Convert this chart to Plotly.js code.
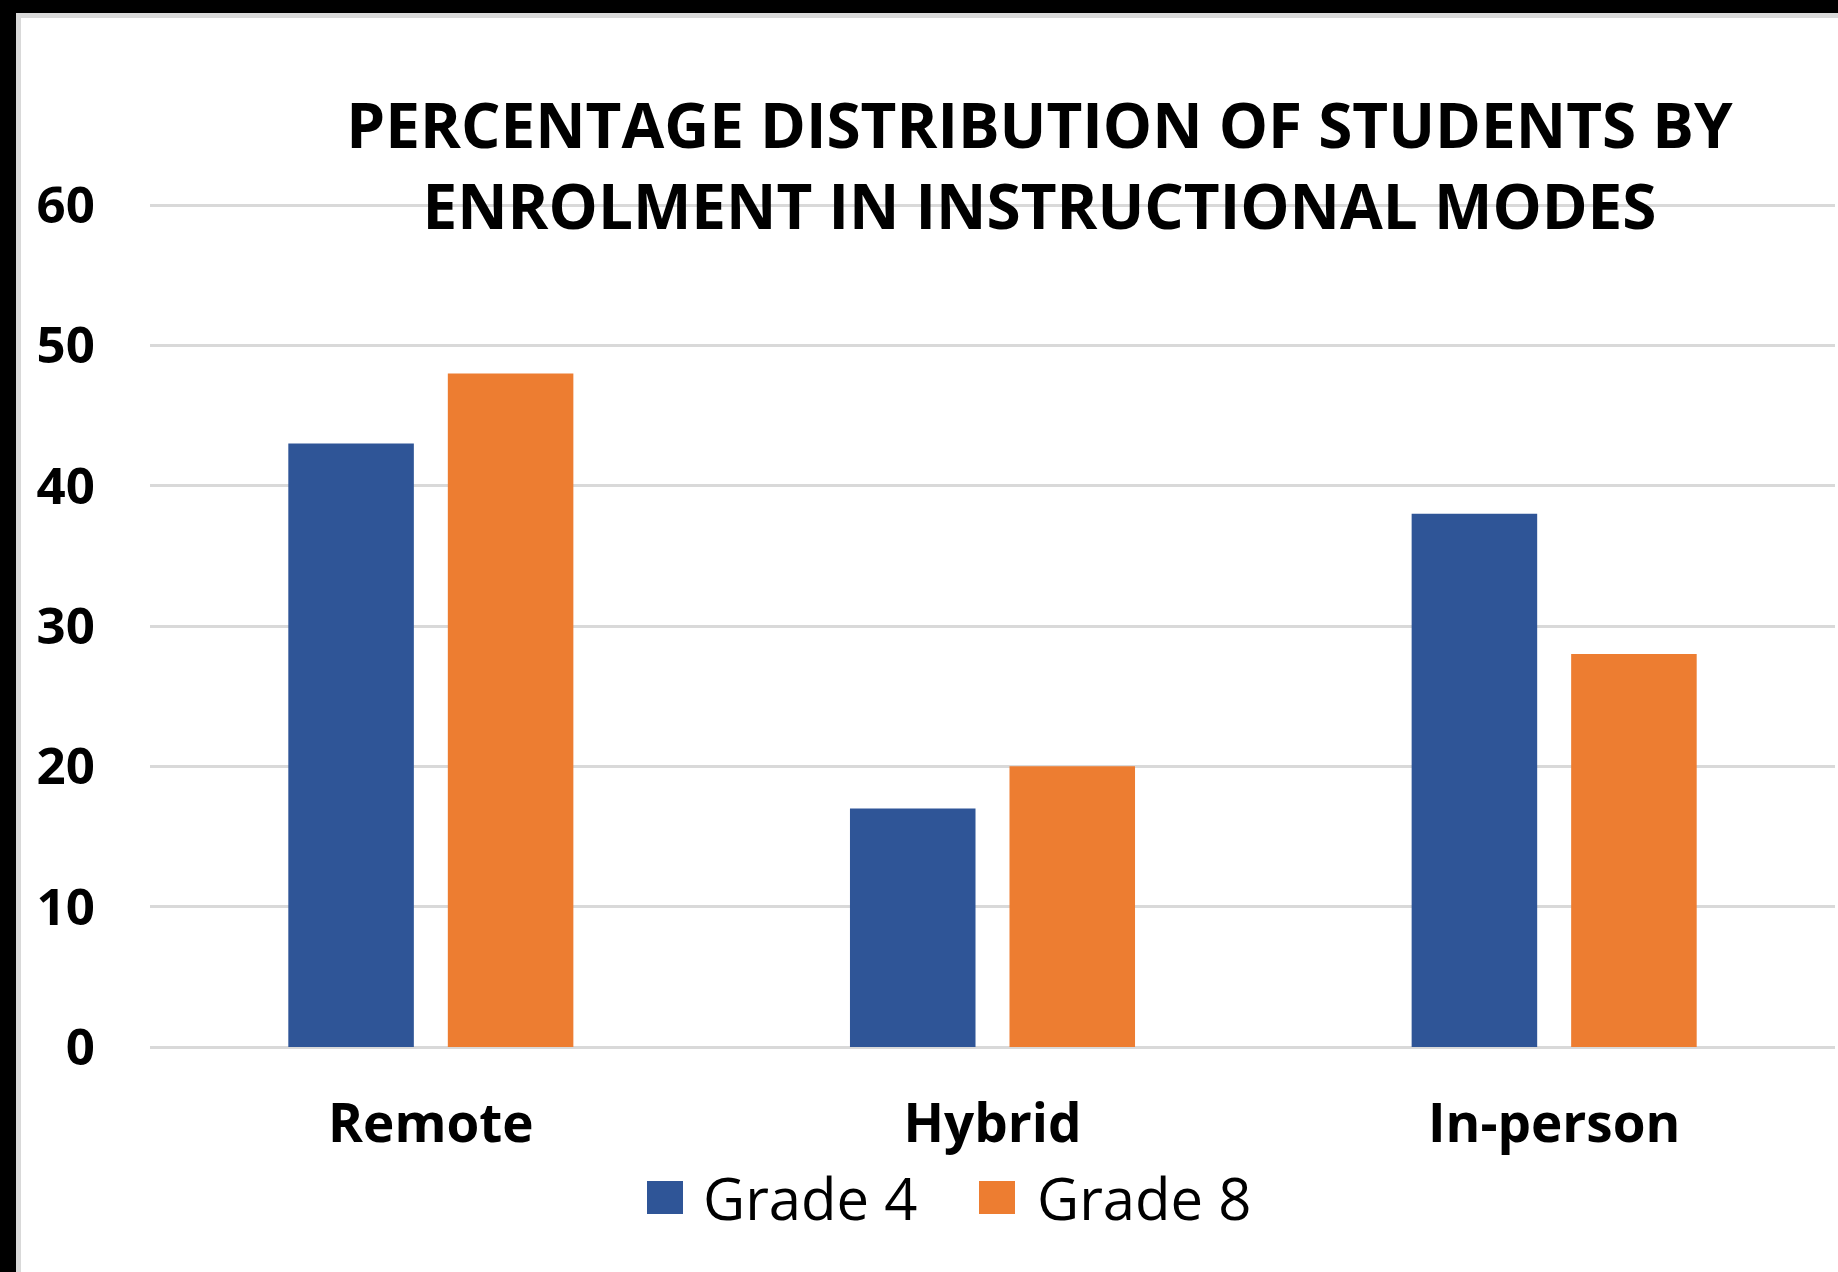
<!DOCTYPE html>
<html>
<head>
<meta charset="utf-8">
<script src="https://cdn.plot.ly/plotly-3.0.1.min.js"></script>
<style>
  html, body { margin: 0; padding: 0; background: #000; width: 1838px; height: 1272px; overflow: hidden; }
  #frame { position: absolute; left: 16px; top: 13px; width: 1822px; height: 1259px; background: #fff;
           box-sizing: border-box; border-top: 5px solid #d9d9d9; border-left: 5px solid #d9d9d9; }
  #chart { position: absolute; left: 0; top: 0; width: 1838px; height: 1272px; }
</style>
</head>
<body>
<div id="frame"></div>
<div id="chart"></div>
<script>
// ---- data ----
const categories = ["Remote", "Hybrid", "In-person"];
const seriesNames = ["Grade 4", "Grade 8"];
const grade4 = [43, 17, 38];
const grade8 = [48, 20, 28];
const yTickValues = [0, 10, 20, 30, 40, 50, 60];
const titleLines = ["PERCENTAGE DISTRIBUTION OF STUDENTS BY", "ENROLMENT IN INSTRUCTIONAL MODES"];

// ---- styling ----
const colors = ["#2F5597", "#ED7D31"];
const W = 1838, H = 1272;
const M = { l: 150, r: 3, t: 191, b: 225 };
const plotW = W - M.l - M.r, plotH = H - M.t - M.b;
const px2paperX = px => (px - M.l) / plotW;
const px2paperY = py => (H - M.b - py) / plotH;

const seriesValues = [grade4, grade8];
const traces = seriesNames.map((name, i) => ({
  type: "bar",
  name: name,
  x: categories,
  y: seriesValues[i],
  marker: { color: colors[i], line: { width: 0 } },
  showlegend: false,
  hoverinfo: "x+y+name"
}));

// custom legend (big square swatches like the original)
const legendSwatchX = [647, 979];
const legendTextX = [701, 1035];
const legendY0 = 1181, legendY1 = 1214, legendMidY = 1197;
const shapes = seriesNames.map((n, i) => ({
  type: "rect", xref: "paper", yref: "paper",
  x0: px2paperX(legendSwatchX[i]), x1: px2paperX(legendSwatchX[i] + 36),
  y0: px2paperY(legendY1), y1: px2paperY(legendY0),
  fillcolor: colors[i], line: { width: 0 }
}));
const annotations = seriesNames.map((n, i) => ({
  text: n, xref: "paper", yref: "paper",
  x: px2paperX(legendTextX[i]), y: px2paperY(legendMidY),
  xanchor: "left", yanchor: "middle", showarrow: false,
  font: { family: "Open Sans, sans-serif", size: 58, color: "#000" }
}));

const layout = {
  width: W, height: H,
  margin: M,
  paper_bgcolor: "rgba(0,0,0,0)",
  plot_bgcolor: "rgba(0,0,0,0)",
  title: {
    text: titleLines.join("<br>"),
    font: { family: "Open Sans, sans-serif", size: 62, color: "#000", weight: "bold" },
    x: 1039.5 / W, xanchor: "center", xref: "container",
    y: 1 - 148 / H, yanchor: "top", yref: "container"
  },
  barmode: "group",
  bargap: 0.432,
  bargroupgap: 0.213,
  xaxis: {
    type: "category",
    showgrid: false, zeroline: false, showline: false,
    ticks: "outside", ticklen: 30, tickcolor: "rgba(0,0,0,0)",
    tickfont: { family: "Open Sans, sans-serif", size: 53, color: "#000", weight: "bold" }
  },
  yaxis: {
    range: [0, 61],
    tickvals: yTickValues,
    ticktext: yTickValues.map(String),
    showgrid: true, gridcolor: "#D9D9D9", gridwidth: 3,
    zeroline: true, zerolinecolor: "#D9D9D9", zerolinewidth: 3,
    showline: false,
    ticks: "outside", ticklen: 44, tickcolor: "rgba(0,0,0,0)",
    tickfont: { family: "Open Sans, sans-serif", size: 51, color: "#000", weight: "bold" }
  },
  shapes: shapes,
  annotations: annotations,
  showlegend: false
};

Plotly.newPlot("chart", traces, layout, { displayModeBar: false, staticPlot: true });
</script>
</body>
</html>
